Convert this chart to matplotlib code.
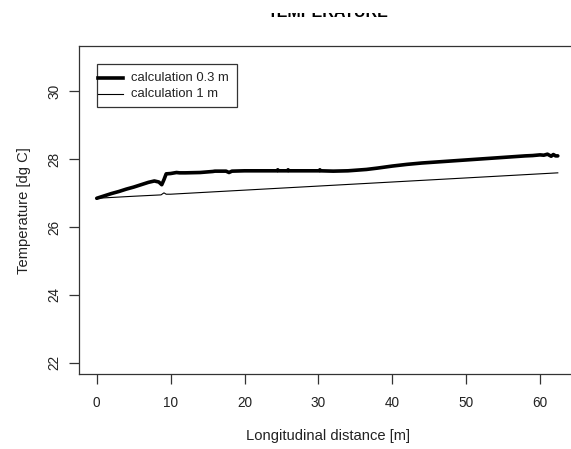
import matplotlib
matplotlib.use("Agg")
import matplotlib.pyplot as plt
from matplotlib.patches import Rectangle
from matplotlib.lines import Line2D

plt.rcParams['font.family'] = ['Liberation Sans', 'DejaVu Sans']

# ---- data ----
x_03 = [0, 1, 2, 3, 4, 5, 6, 7, 7.8, 8.4, 8.8, 9.1, 9.4, 10, 10.8, 11.2, 12, 14,
        15.7, 16, 17.5, 17.9, 18.3, 20, 22, 24.4, 24.5, 24.6, 25.8, 25.9, 26, 28,
        30.1, 30.2, 30.3, 32, 34, 36.5, 38, 40, 42, 44, 46, 48, 50, 52, 54, 56,
        58, 59, 60, 60.5, 61, 61.5, 61.8, 62.1, 62.4]
t_03 = [26.85, 26.92, 26.99, 27.05, 27.12, 27.18, 27.25, 27.32, 27.36, 27.33,
        27.25, 27.40, 27.57, 27.58, 27.61, 27.60, 27.60, 27.61, 27.64, 27.65,
        27.65, 27.61, 27.65, 27.66, 27.66, 27.66, 27.69, 27.66, 27.66, 27.69,
        27.66, 27.66, 27.66, 27.69, 27.66, 27.65, 27.66, 27.70, 27.74, 27.80,
        27.85, 27.89, 27.92, 27.95, 27.98, 28.01, 28.04, 28.07, 28.10, 28.11,
        28.13, 28.12, 28.15, 28.09, 28.14, 28.10, 28.10]
x_1 = [0, 5, 8.7, 9.1, 9.4, 10, 15, 20, 30, 40, 50, 62.4]
t_1 = [26.85, 26.91, 26.95, 27.01, 26.97, 26.97, 27.03, 27.09, 27.21, 27.33, 27.45, 27.60]

series_labels = ["calculation 0.3 m", "calculation 1 m"]
title = "TEMPERATURE"
xlabel = "Longitudinal distance [m]"
ylabel = "Temperature [dg C]"
xticks = [0, 10, 20, 30, 40, 50, 60]
yticks = [22, 24, 26, 28, 30]

W, H = 571, 449
fig = plt.figure(figsize=(W / 100, H / 100), dpi=100)
fig.patch.set_facecolor('white')

# axes box in pixels: left 79, right 577, top 46, bottom 374.3
L, R, T, B = 79, 577, 46, 374.3
ax = fig.add_axes([L / W, (H - B) / H, (R - L) / W, (B - T) / H])

tc = '#222222'
ax.plot(x_03, t_03, color='black', lw=2.6, solid_joinstyle='round', solid_capstyle='round')
ax.plot(x_1, t_1, color='black', lw=0.8)

ax.set_xlim(-2.4, 65.0)
ax.set_ylim(21.66, 31.34)
ax.set_xticks(xticks)
ax.set_yticks(yticks)

for s in ax.spines.values():
    s.set_color('#333333')
    s.set_linewidth(0.9)

ax.tick_params(axis='both', direction='out', length=7.5, width=0.9, color='#333333',
               labelsize=9.8, labelcolor=tc)
ax.tick_params(axis='x', pad=8)
ax.tick_params(axis='y', pad=5, labelrotation=90)
for lab in ax.get_yticklabels():
    lab.set_va('center')

ax.set_xlabel(xlabel, fontsize=10.6, color=tc, labelpad=14)
ax.set_ylabel(ylabel, fontsize=10.6, color=tc, labelpad=12)

# title (top part hidden, as in the reference)
fig.text(((L + R) / 2) / W, (H - 17.3) / H, title, ha='center', va='baseline',
         fontsize=11.5, fontweight='bold', color='black')
fig.add_artist(Rectangle((0, (H - 13.3) / H), 1, 13.3 / H, transform=fig.transFigure,
                         facecolor='white', edgecolor='none', zorder=10))

# legend drawn manually (pixel layout of the reference)
aw, ah = R - L, B - T
def ax_frac(px, py):
    return ((px - L) / aw, (B - py) / ah)

x0, y0 = ax_frac(96.7, 107.3)
x1, y1 = ax_frac(236.7, 64.3)
ax.add_patch(Rectangle((x0, y0), x1 - x0, y1 - y0, transform=ax.transAxes,
                       facecolor='white', edgecolor='#333333', lw=0.9, zorder=5))
for py, lw, lab in [(78.3, 2.6, series_labels[0]), (94.0, 0.8, series_labels[1])]:
    ha_, ya_ = ax_frac(98, py)
    hb_, _ = ax_frac(122.7, py)
    ax.add_line(Line2D([ha_, hb_], [ya_, ya_], transform=ax.transAxes, color='black',
                       lw=lw, zorder=6))
    tx, _ = ax_frac(130.7, py)
    ax.text(tx, ya_, lab, transform=ax.transAxes, fontsize=9.4, color=tc,
            ha='left', va='center', zorder=6)

fig.savefig('out.png', dpi=100)
